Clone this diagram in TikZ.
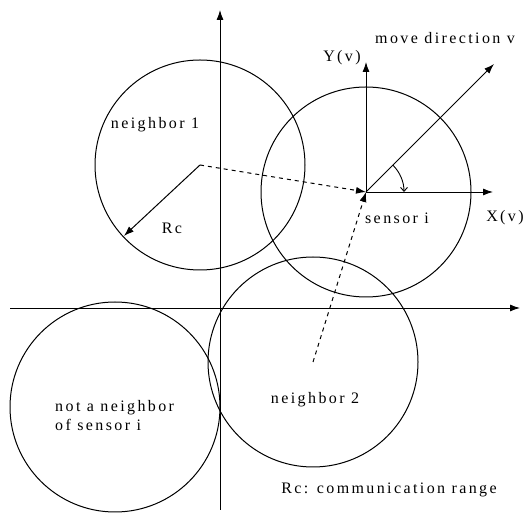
\documentclass[tikz,border=0pt]{standalone}
\usepackage{fontspec}
\setmainfont{Liberation Serif}
\usetikzlibrary{arrows.meta, calc}

\tikzset{
  rangecircle/.style={line width=1pt},
  axisline/.style={line width=0.9pt, -{Latex[length=10pt,width=7pt]}},
  linkline/.style={line width=1pt, dash pattern=on 4pt off 4pt, -{Latex[length=10pt,width=7pt]}},
  lbl/.style={font=\fontsize{16}{19}\selectfont\addfontfeatures{LetterSpace=15}, inner sep=1pt}
}

\begin{document}
\begin{tikzpicture}[x=1pt, y=1pt]
      \useasboundingbox (0,0) rectangle (524,513);

      % 1. 座標軸
      \coordinate (O) at (220,205);
      \coordinate (xl) at (10,205);
      \coordinate (xr) at (520,205);
      \coordinate (yb) at (220,3);
      \coordinate (yt) at (220,503);
      \draw[axisline] (xl) -- (xr);
      \draw[axisline] (yb) -- (yt);

      % 2. 各感測器的圓心
      \coordinate (S) at (366,321);
      \coordinate (N1) at (200,348);
      \coordinate (N2) at (313,151);
      \coordinate (N3) at (115,106);

      % 3. 通訊範圍
      \draw[rangecircle] (S) circle (105);
      \draw[rangecircle] (N1) circle (105);
      \draw[rangecircle] (N2) circle (105);
      \draw[rangecircle] (N3) circle (105);

      % 4. 半徑 Rc
      \coordinate (R1) at ($(N1)+(223:104)$);
      \draw[axisline, line width=1pt] (N1) -- (R1);

      % 5. 鄰居到 sensor i
      \draw[linkline] (N1) -- (S);
      \draw[linkline] (N2) -- (S);

      % 6. 局部座標與移動方向
      \coordinate (Xv) at (493,321);
      \coordinate (Yv) at (366,451);
      \coordinate (V) at ($(S)+(45:181)$);
      \draw[axisline] (S) -- (Xv);
      \draw[axisline] (S) -- (Yv);
      \draw[axisline] (S) -- (V);
      \draw[line width=0.9pt, -{Straight Barb[length=4pt,width=7pt]}] ($(S)+(45:38)$) arc (45:0:38);

      % 7. 標籤
      \node[lbl] (lv) at (445,475) {move direction v};
      \node[lbl] (lY) at (342,455) {Y(v)};
      \node[lbl] (lX) at (505,295) {X(v)};
      \node[lbl] (lS) at (397,295) {sensor i};
      \node[lbl] (lN1) at (155,388) {neighbor 1};
      \node[lbl] (lRc) at (172,285) {Rc};
      \node[lbl, align=left, anchor=west] (lN3) at (54,97) {not a neighbor\\of sensor i};
      \node[lbl] (lN2) at (315,113) {neighbor 2};
      \node[lbl] (lcr) at (389,23) {Rc: communication range};
\end{tikzpicture}
\end{document}
